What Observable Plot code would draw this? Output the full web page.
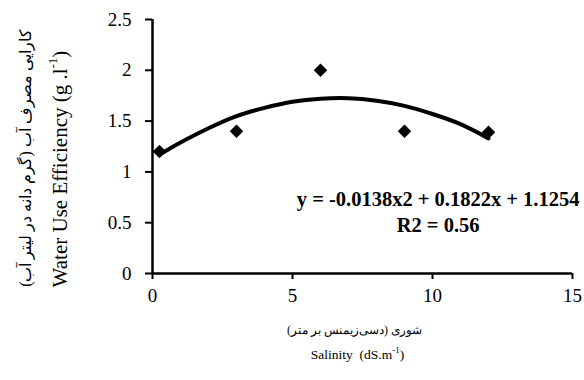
<!DOCTYPE html>
<html><head><meta charset="utf-8">
<script src="https://cdn.jsdelivr.net/npm/d3@7"></script>
<script src="https://cdn.jsdelivr.net/npm/@observablehq/plot@0.6"></script>
<style>body{margin:0;background:#fff} svg text{font-family:"Liberation Serif","DejaVu Serif",serif}</style>
</head><body>
<div id="chart"></div>
<script>
// Observed points
const salinity = [0.25, 3, 6, 9, 12];
const wue = [1.2, 1.4, 2.0, 1.4, 1.39];
// Trend line
const trendX = [0.25, 1, 2, 3, 4, 5, 6, 7, 8, 9, 10, 11, 12];
const trendY = [1.17, 1.29, 1.43, 1.55, 1.63, 1.69, 1.72, 1.725, 1.70, 1.65, 1.57, 1.47, 1.33];
const xTicks = [0, 5, 10, 15];
const yTicks = [0, 0.5, 1, 1.5, 2, 2.5];
const yTickLabels = ["0", "0.5", "1", "1.5", "2", "2.5"];
const equation = "y = -0.0138x2 + 0.1822x + 1.1254";
const r2 = "R2 = 0.56";
const xTitleFa = "شوری (دسی‌زیمنس بر متر)";
const yTitleFa = "کارایی مصرف آب (گرم دانه در لیتر آب)";

const points = salinity.map((x, i) => ({x, y: wue[i]}));
const trend = trendX.map((x, i) => ({x, y: trendY[i]}));
const serif = "Liberation Serif";

const plot = Plot.plot({
  width: 584, height: 380,
  marginLeft: 152, marginRight: 12, marginTop: 19, marginBottom: 107,
  style: {fontFamily: serif, background: "#fff", color: "#000", overflow: "visible"},
  x: {domain: [0, 15]},
  y: {domain: [0, 2.5]},
  marks: [
    Plot.axisX({ticks: xTicks, tickSize: 6, tickPadding: 9, fontSize: 19, fontFamily: serif, label: null, strokeWidth: 2}),
    Plot.axisY({ticks: yTicks, tickFormat: d => yTickLabels[yTicks.indexOf(d)], tickSize: 7, tickPadding: 14, fontSize: 19, fontFamily: serif, label: null, strokeWidth: 2}),
    Plot.ruleY([0], {strokeWidth: 2.5}),
    Plot.ruleX([0], {strokeWidth: 2.5}),
    Plot.line(trend, {x: "x", y: "y", curve: "natural", strokeWidth: 4, stroke: "#000"}),
    Plot.dot(points, {x: "x", y: "y", symbol: "square", r: 5.4, rotate: 45, fill: "#000", stroke: "none"}),
    Plot.text([equation], {x: 15.25, y: 0.73, text: d => d, textAnchor: "end", fontWeight: "bold", fontSize: 20.5, fontFamily: serif}),
    Plot.text([r2], {x: 10.2, y: 0.47, text: d => d, textAnchor: "middle", fontWeight: "bold", fontSize: 20.5, fontFamily: serif}),
    Plot.text([xTitleFa], {frameAnchor: "bottom", dx: -8, dy: 60, text: d => d, fontSize: 12, fontFamily: serif}),
    Plot.text(["Salinity  (dS.m-1)"], {frameAnchor: "bottom", dx: -5, dy: 85, text: d => d, fontSize: 13.5, fontFamily: serif})
  ]
});

// Y titles
const svg = d3.select(plot);
svg.append("text")
  .attr("transform", "translate(27,158) rotate(-90)")
  .attr("text-anchor", "middle").attr("dominant-baseline", "middle")
  .attr("font-family", serif).attr("font-size", 16)
  .text(yTitleFa);
const yEn = svg.append("text")
  .attr("transform", "translate(62,169) rotate(-90)")
  .attr("text-anchor", "middle").attr("dominant-baseline", "middle")
  .attr("font-family", serif).attr("font-size", 21);
yEn.append("tspan").text("Water Use Efficiency (g .l");
yEn.append("tspan").attr("font-size", 13).attr("dy", -8).text("-1");
yEn.append("tspan").attr("dy", 8).text(")");

// superscript in Salinity title
svg.selectAll("text").filter(function(){ return this.textContent === "Salinity  (dS.m-1)"; }).each(function(){
  const t = d3.select(this);
  const tNode = t.select("tspan").empty() ? t : t.select("tspan");
  tNode.text(null);
  tNode.append("tspan").text("Salinity  (dS.m");
  tNode.append("tspan").attr("font-size", 9).attr("dy", -6).text("-1");
  tNode.append("tspan").attr("dy", 6).text(")");
});

document.getElementById("chart").appendChild(plot);
</script>
</body></html>
